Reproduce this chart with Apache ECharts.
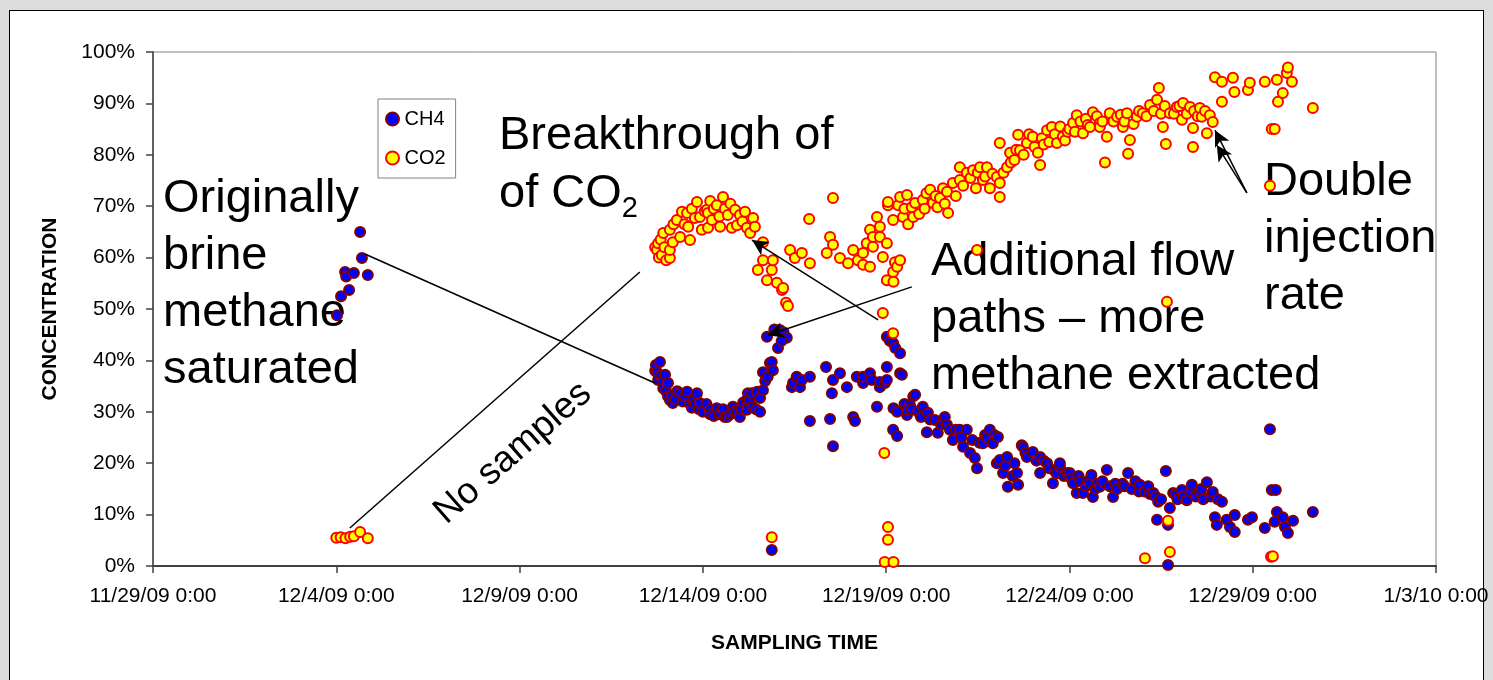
<!DOCTYPE html>
<html>
<head>
<meta charset="utf-8">
<script src="https://cdn.jsdelivr.net/npm/echarts@6/dist/echarts.min.js"></script>
<style>
  html, body { margin: 0; padding: 0; background: #dddddd; }
  #panel { position: absolute; left: 9px; top: 10px; width: 1473px; height: 700px; background: #fff; border: 1px solid #000; }
  #chart { position: absolute; left: 0; top: 0; width: 1493px; height: 680px; }
</style>
</head>
<body>
<div id="panel"></div>
<div id="chart"></div>
<script>
// x = days since 11/29/09 0:00, y = concentration in %
const xTickLabels = ['11/29/09 0:00', '12/4/09 0:00', '12/9/09 0:00', '12/14/09 0:00',
  '12/19/09 0:00', '12/24/09 0:00', '12/29/09 0:00', '1/3/10 0:00'];

const ch4Points = [
  [5.02, 48.8], [5.13, 52.5], [5.24, 57.2], [5.27, 56.3], [5.35, 53.7], [5.48, 57.0], [5.65, 65.0], [5.70, 59.9], [5.86, 56.6],
  // arch after breakthrough
  [13.70, 38.0], [13.72, 39.1], [13.75, 37.7], [13.78, 36.2], [13.83, 39.7], [13.85, 37.0], [13.90, 36.0], [13.92, 34.6],
  [13.97, 37.2], [14.00, 34.0], [14.05, 35.6], [14.05, 33.0], [14.10, 32.3], [14.15, 33.0], [14.18, 31.7], [14.25, 32.5],
  [14.30, 34.0], [14.38, 33.6], [14.45, 32.0], [14.50, 33.0], [14.57, 33.9], [14.65, 31.5], [14.70, 30.8], [14.73, 32.3],
  [14.80, 31.5], [14.84, 33.6], [14.90, 30.5], [14.92, 31.7], [15.00, 30.0], [15.10, 31.5], [15.19, 30.4], [15.20, 29.5],
  [15.30, 29.2], [15.38, 30.7], [15.45, 29.5], [15.47, 29.8], [15.55, 30.5], [15.60, 29.0], [15.66, 29.0], [15.75, 29.5],
  [15.82, 31.0], [15.85, 30.0], [15.93, 29.8], [16.01, 29.0], [16.05, 30.5], [16.10, 31.8], [16.20, 30.4], [16.20, 32.3],
  [16.23, 33.6], [16.28, 32.3], [16.34, 33.6], [16.35, 31.0], [16.45, 30.5], [16.48, 33.9], [16.56, 30.0], [16.56, 32.7],
  [16.64, 34.2], [16.64, 37.7], [16.70, 36.0], [16.77, 36.8], [16.83, 39.5], [16.88, 39.7], [16.91, 38.1],
  [16.75, 44.6], [16.95, 46.0], [17.10, 45.9], [17.05, 42.4], [17.20, 45.5], [17.29, 44.4], [17.15, 43.8], [16.88, 3.1],
  [17.43, 34.8], [17.46, 35.6], [17.56, 36.8], [17.65, 34.8], [17.70, 36.2], [17.92, 36.8], [17.92, 28.2], [18.36, 38.7],
  [18.47, 28.6], [18.52, 33.6], [18.55, 36.2], [18.55, 23.3], [18.74, 37.5], [18.93, 34.8], [19.10, 29.0], [19.15, 28.2],
  [19.20, 36.8], [19.37, 35.6], [19.37, 36.8], [19.56, 37.5], [19.61, 36.2], [19.75, 31.0], [19.83, 34.8], [19.83, 35.8],
  [19.97, 35.6], [20.02, 36.2], [20.02, 38.7], [20.02, 44.6], [20.10, 43.8], [20.19, 43.4], [20.25, 42.4], [20.38, 41.4],
  [20.38, 37.5], [20.43, 37.2], [20.19, 26.5], [20.30, 25.3], [20.20, 30.7], [20.30, 30.0],
  // decline
  [20.50, 31.5], [20.57, 29.4], [20.57, 30.4], [20.65, 31.3], [20.70, 30.5], [20.74, 33.0], [20.79, 33.3], [20.87, 30.0],
  [20.95, 29.0], [21.00, 31.0], [21.11, 26.0], [21.14, 29.8], [21.20, 28.5], [21.33, 28.4], [21.41, 25.9], [21.50, 27.5],
  [21.55, 28.4], [21.60, 29.0], [21.66, 27.5], [21.74, 26.5], [21.82, 24.5], [21.90, 26.5], [22.01, 26.5], [22.05, 25.0],
  [22.10, 23.2], [22.20, 26.5], [22.29, 22.0], [22.35, 24.5], [22.42, 21.0], [22.48, 19.0], [22.55, 24.0], [22.64, 23.9],
  [22.70, 25.5], [22.75, 25.0], [22.83, 26.5], [22.91, 23.9], [22.95, 25.5], [23.02, 20.0], [23.05, 25.1], [23.10, 20.6],
  [23.19, 18.1], [23.25, 19.5], [23.30, 21.2], [23.32, 15.4], [23.45, 17.5], [23.50, 20.0], [23.57, 18.1], [23.60, 15.8],
  [23.70, 23.5], [23.73, 23.2], [23.80, 22.0], [23.84, 21.2], [24.00, 22.2], [24.10, 20.5], [24.20, 21.2], [24.20, 18.1],
  [24.30, 20.5], [24.39, 20.0], [24.45, 19.0], [24.55, 16.1], [24.60, 18.5], [24.65, 18.0], [24.74, 19.3], [24.74, 20.0],
  [24.85, 17.5], [24.93, 18.1], [25.01, 18.1], [25.05, 17.0], [25.10, 16.1], [25.20, 14.2], [25.25, 17.5], [25.30, 16.5],
  [25.37, 14.2], [25.45, 15.5], [25.50, 16.5], [25.56, 16.1], [25.60, 17.7], [25.64, 13.4], [25.70, 15.0], [25.75, 16.0],
  [25.83, 15.4], [25.90, 16.5], [26.02, 18.7], [26.10, 15.5], [26.19, 13.4], [26.25, 16.0], [26.30, 15.0], [26.45, 16.0],
  [26.50, 15.5], [26.60, 18.1], [26.70, 15.0], [26.80, 16.5], [26.90, 14.5], [26.92, 15.8], [27.05, 14.5], [27.15, 15.5],
  [27.20, 14.0], [27.29, 14.2], [27.35, 13.5], [27.42, 12.5], [27.39, 9.0], [27.50, 13.0], [27.63, 18.5], [27.69, 8.0],
  [27.74, 11.3], [27.69, 0.2], [27.83, 14.2], [27.90, 13.8], [27.95, 13.0], [28.07, 14.8], [28.10, 13.5], [28.20, 12.8],
  [28.30, 14.5], [28.34, 15.8], [28.45, 13.5], [28.56, 14.2], [28.60, 15.0], [28.65, 13.0], [28.75, 16.3], [28.85, 13.5],
  [28.91, 14.4], [29.05, 13.0], [29.16, 12.5],
  [28.97, 9.5], [29.02, 8.0], [29.29, 9.0], [29.38, 7.6], [29.51, 9.9], [29.51, 6.6], [29.87, 9.0], [29.98, 9.5],
  [30.33, 7.4], [30.47, 26.6], [30.52, 14.8], [30.63, 14.8], [30.60, 8.6], [30.66, 10.5], [30.82, 9.5], [30.88, 7.6],
  [30.96, 6.4], [31.10, 8.8], [31.64, 10.5]
];

const co2Points = [
  [5.00, 5.5], [5.12, 5.6], [5.25, 5.4], [5.38, 5.7], [5.48, 5.8], [5.65, 6.6], [5.86, 5.4],
  // breakthrough arch
  [13.70, 62.0], [13.75, 61.5], [13.78, 62.8], [13.80, 60.0], [13.85, 63.5], [13.88, 60.5], [13.92, 64.8], [13.95, 62.0],
  [14.00, 59.5], [14.10, 59.9], [14.10, 61.5], [14.10, 65.4], [14.18, 63.0], [14.20, 66.5], [14.29, 67.3], [14.38, 64.0],
  [14.43, 68.9], [14.50, 66.5], [14.57, 68.7], [14.60, 66.0], [14.65, 63.4], [14.70, 69.5], [14.78, 67.7], [14.84, 70.8],
  [14.92, 67.9], [14.97, 65.4], [15.05, 69.0], [15.11, 69.3], [15.14, 65.8], [15.14, 68.7], [15.20, 71.0], [15.25, 67.3],
  [15.30, 69.5], [15.38, 70.2], [15.45, 68.0], [15.47, 66.0], [15.55, 71.8], [15.60, 69.5], [15.68, 68.3], [15.75, 70.5],
  [15.79, 65.8], [15.88, 69.3], [15.93, 66.3], [16.01, 68.3], [16.08, 67.0], [16.15, 68.9], [16.20, 65.8], [16.29, 64.8],
  [16.37, 67.7], [16.42, 66.0],
  [16.50, 57.6], [16.64, 63.0], [16.64, 59.5], [16.75, 55.6], [16.88, 57.6], [16.91, 59.5], [17.02, 55.1], [17.16, 53.7],
  [17.19, 54.1], [17.27, 51.2], [17.32, 50.6], [16.88, 5.6],
  [17.38, 61.5], [17.51, 59.9], [17.70, 60.9], [17.90, 67.5], [17.92, 58.9], [18.38, 60.9], [18.47, 64.0], [18.55, 62.5],
  [18.55, 71.6], [18.74, 59.9], [18.96, 58.9], [19.10, 61.5], [19.23, 59.5], [19.37, 58.6], [19.37, 60.9], [19.47, 62.8],
  [19.56, 58.2], [19.56, 65.4], [19.64, 62.1], [19.64, 64.0], [19.75, 67.9], [19.83, 64.0], [19.83, 66.0], [19.91, 60.1],
  [19.91, 49.2], [20.02, 55.6], [20.02, 62.8], [20.05, 70.2], [20.05, 70.8], [20.19, 67.3], [20.19, 57.2], [20.20, 55.3],
  [20.24, 59.1], [20.30, 58.2], [20.33, 70.2], [20.38, 59.5], [20.38, 71.8], [20.19, 45.3],
  [19.95, 22.0], [20.05, 7.6], [20.05, 5.1], [19.96, 0.8], [20.20, 0.8],
  // rise
  [20.46, 67.9], [20.50, 69.5], [20.57, 72.2], [20.60, 66.5], [20.70, 69.8], [20.74, 67.9], [20.79, 70.6], [20.90, 68.5],
  [21.00, 71.2], [21.05, 69.5], [21.10, 72.5], [21.20, 73.2], [21.28, 70.6], [21.35, 72.0], [21.40, 69.8], [21.47, 71.6],
  [21.55, 73.5], [21.60, 70.5], [21.66, 72.8], [21.69, 68.7], [21.82, 74.5], [21.90, 72.0], [22.01, 77.6], [22.01, 75.1],
  [22.10, 74.0], [22.20, 76.5], [22.30, 75.5], [22.37, 77.0], [22.45, 73.5], [22.48, 61.5], [22.50, 76.5], [22.56, 77.6],
  [22.64, 75.1], [22.70, 75.8], [22.75, 77.6], [22.83, 73.5], [22.90, 76.3], [23.02, 75.7], [23.10, 71.8], [23.10, 74.5],
  [23.10, 82.3], [23.20, 76.5], [23.30, 77.6], [23.38, 80.4], [23.40, 78.5], [23.50, 79.0], [23.55, 81.0], [23.60, 83.9],
  [23.65, 80.9], [23.75, 80.0], [23.84, 82.3], [23.90, 84.0], [24.00, 83.5], [24.05, 81.5], [24.14, 80.4], [24.20, 78.0],
  [24.25, 83.2], [24.30, 82.0], [24.39, 84.8], [24.45, 82.5], [24.52, 85.4], [24.60, 84.0], [24.66, 82.3], [24.75, 85.5],
  [24.82, 83.5], [24.88, 82.8], [24.95, 84.5], [25.00, 85.0], [25.10, 86.2], [25.15, 84.5], [25.20, 87.7], [25.30, 86.5],
  [25.37, 84.2], [25.45, 87.0], [25.50, 85.8], [25.56, 85.4], [25.64, 88.3], [25.75, 87.5], [25.83, 86.2], [25.83, 85.4],
  [25.90, 86.5], [25.97, 78.5], [26.02, 83.5], [26.10, 88.1], [26.20, 86.5], [26.30, 87.4], [26.40, 87.8], [26.46, 85.4],
  [26.50, 86.5], [26.57, 88.1], [26.60, 80.2], [26.65, 82.9], [26.75, 86.0], [26.84, 87.4], [26.90, 88.5], [27.00, 88.1],
  [27.10, 87.5], [27.20, 89.7], [27.30, 88.5], [27.39, 90.7], [27.44, 93.0], [27.50, 88.0], [27.55, 85.4], [27.60, 89.5],
  [27.63, 82.1], [27.66, 51.4], [27.74, 88.1], [27.85, 88.0], [27.93, 89.3], [28.00, 89.5], [28.07, 86.8], [28.10, 90.1],
  [28.20, 88.0], [28.29, 89.3], [28.37, 85.2], [28.37, 81.5], [28.40, 88.5], [28.50, 87.5], [28.56, 89.1], [28.61, 87.4],
  [28.70, 88.5], [28.75, 84.2], [28.83, 87.7], [28.91, 86.4],
  [27.06, 1.5], [27.69, 8.8], [27.74, 2.7],
  // after doubling the injection rate
  [28.97, 95.1], [29.16, 94.2], [29.16, 90.3], [29.46, 95.0], [29.50, 92.2], [29.87, 92.6], [29.92, 94.0], [30.33, 94.2],
  [30.47, 74.0], [30.52, 85.0], [30.60, 85.0], [30.66, 94.6], [30.69, 90.3], [30.82, 92.0], [30.93, 95.9], [30.96, 97.0],
  [31.07, 94.2], [31.64, 89.1], [30.50, 1.8], [30.55, 1.9]
];

// annotation leader lines, in data coordinates
const annotationLines = [
  { from: [5.78, 60.7], to: [13.69, 35.6], arrow: false },
  { from: [5.37, 7.4], to: [13.28, 57.2], arrow: false },
  { from: [19.78, 47.9], to: [16.34, 63.4], arrow: true },
  { from: [20.70, 54.3], to: [16.77, 44.9], arrow: true },
  { from: [29.84, 72.6], to: [28.97, 84.8], arrow: true },
  { from: [29.84, 72.6], to: [29.02, 81.9], arrow: true }
];

const font = '"Liberation Sans", Arial, sans-serif';
const chart = echarts.init(document.getElementById('chart'));

const bigText = (x, y, text) => ({
  type: 'text', x: x, y: y, silent: true,
  style: { text: text, fontSize: 47, fontFamily: font, fill: '#000', lineHeight: 57, verticalAlign: 'top' }
});

const option = {
  animation: false,
  backgroundColor: 'transparent',
  grid: { left: 153, right: 57, top: 52, bottom: 114, show: true, borderColor: '#808080', borderWidth: 1 },
  legend: {
    orient: 'vertical', left: 378, top: 99,
    data: ['CH4', 'CO2'], icon: 'circle', itemWidth: 14, itemHeight: 13, itemGap: 19,
    padding: [10, 10, 10, 7],
    backgroundColor: '#fff', borderColor: '#808080', borderWidth: 1,
    textStyle: { fontSize: 20, fontFamily: font, color: '#000' }
  },
  xAxis: {
    type: 'value', min: 0, max: 35, interval: 5,
    name: 'SAMPLING TIME', nameLocation: 'middle', nameGap: 67,
    nameTextStyle: { fontSize: 21, fontWeight: 'bold', fontFamily: font, color: '#000' },
    axisLine: { show: true, onZero: false, lineStyle: { color: '#404040', width: 2 } },
    axisTick: { show: true, length: 7, lineStyle: { color: '#404040', width: 1.5 } },
    axisLabel: {
      formatter: v => xTickLabels[Math.round(v / 5)],
      fontSize: 21, fontFamily: font, color: '#000', margin: 20
    },
    splitLine: { show: false }
  },
  yAxis: {
    type: 'value', min: 0, max: 100, interval: 10,
    name: 'CONCENTRATION', nameLocation: 'middle', nameGap: 92,
    nameTextStyle: { fontSize: 21, fontWeight: 'bold', fontFamily: font, color: '#000' },
    axisLine: { show: true, lineStyle: { color: '#404040', width: 1.5 } },
    axisTick: { show: true, length: 7, lineStyle: { color: '#404040', width: 1.5 } },
    axisLabel: { formatter: '{value}%', fontSize: 21, fontFamily: font, color: '#000', margin: 18 },
    splitLine: { show: false }
  },
  series: [
    {
      name: 'CH4', type: 'scatter', data: ch4Points, symbolSize: 10,
      itemStyle: { color: '#0000ff', borderColor: '#800000', borderWidth: 2, opacity: 1 }
    },
    {
      name: 'CO2', type: 'scatter', data: co2Points, symbolSize: 10,
      itemStyle: { color: '#ffff00', borderColor: '#ff0000', borderWidth: 2, opacity: 1 },
      markLine: {
        silent: true,
        label: { show: false },
        lineStyle: { color: '#000', width: 1.5, type: 'solid' },
        data: annotationLines.map(a => [
          { coord: a.from, symbol: 'none' },
          { coord: a.to, symbol: a.arrow ? 'arrow' : 'none', symbolSize: [12, 16] }
        ])
      }
    }
  ],
  graphic: [
    bigText(163, 171, 'Originally\nbrine\nmethane\nsaturated'),
    bigText(931, 234, 'Additional flow\npaths \u2013 more\nmethane extracted'),
    bigText(1264, 154, 'Double\ninjection\nrate'),
    {
      type: 'text', x: 499, y: 107, silent: true,
      style: {
        text: 'Breakthrough of\nof CO{sub|2}', fontSize: 47, fontFamily: font, fill: '#000',
        lineHeight: 58, verticalAlign: 'top',
        rich: { sub: { fontSize: 29, fontFamily: font, lineHeight: 20, verticalAlign: 'bottom' } }
      }
    },
    {
      type: 'text', x: 513, y: 453, rotation: 0.72, silent: true,
      style: { text: 'No samples', fontSize: 37, fontFamily: font, fill: '#000', align: 'center', verticalAlign: 'middle' }
    }
  ]
};

chart.setOption(option);
</script>
</body>
</html>
